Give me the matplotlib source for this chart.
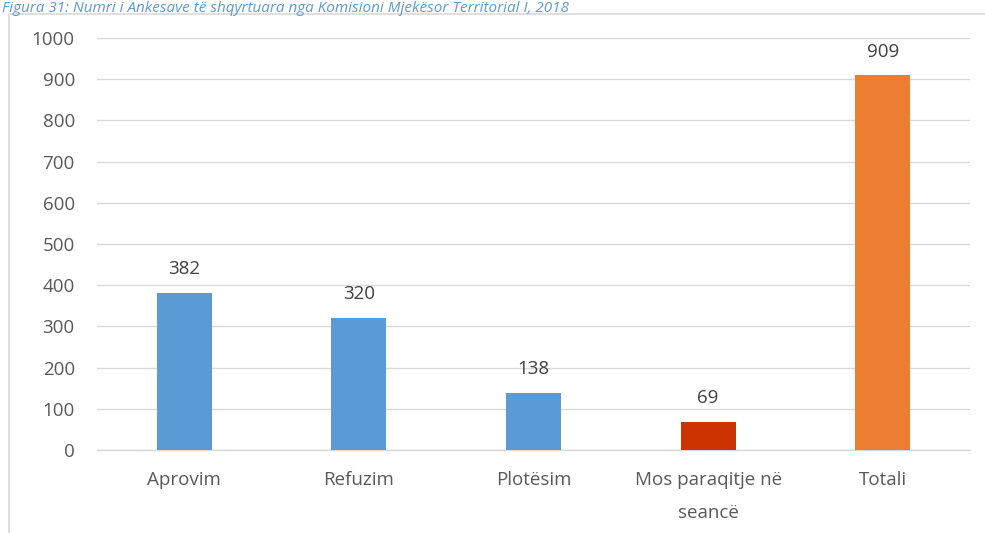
import matplotlib.pyplot as plt
from matplotlib.patches import Rectangle

# Data
categories = ["Aprovim", "Refuzim", "Plotësim", "Mos paraqitje në\nseancë", "Totali"]
values = [382, 320, 138, 69, 909]
colors = ["#5B9BD5", "#5B9BD5", "#5B9BD5", "#CC3300", "#ED7D31"]
y_ticks = list(range(0, 1001, 100))
caption = "Figura 31: Numri i Ankesave të shqyrtuara nga Komisioni Mjekësor Territorial I, 2018"

plt.rcParams['font.family'] = ['Open Sans', 'DejaVu Sans']
text_color = "#595959"

fig = plt.figure(figsize=(9.85, 5.33), dpi=100)
ax = fig.add_axes([97 / 985, 1 - 450 / 533, 873 / 985, 412 / 533])

# Chart frame and caption above it
fig.patches.append(Rectangle((9 / 985, -0.05), 1.0, 1 - 14 / 533 + 0.05,
                             transform=fig.transFigure, fill=False,
                             edgecolor="#D9D9D9", linewidth=1.2))
fig.text(0.002, 1.0 - 0.5 / 533, caption, color="#5B9BD5", style="italic",
         fontsize=11, va="top", ha="left")

x = list(range(len(categories)))
bars = ax.bar(x, values, width=0.315, color=colors, zorder=3)
for xi, v in zip(x, values):
    ax.text(xi, v + 36, str(v), ha="center", va="bottom",
            fontsize=13.5, color="#404040")

ax.set_xlim(-0.5, len(categories) - 0.5)
ax.set_ylim(0, 1000)
ax.set_yticks(y_ticks)
ax.set_xticks(x)
ax.set_xticklabels(categories, linespacing=2.05)
ax.grid(axis="y", color="#D9D9D9", linewidth=1, zorder=0)
for s in ["top", "right", "left"]:
    ax.spines[s].set_visible(False)
ax.spines["bottom"].set_color("#D9D9D9")
ax.spines["bottom"].set_linewidth(1)
ax.tick_params(axis="both", length=0, labelsize=13.5, colors=text_color)
ax.tick_params(axis="x", pad=15)
ax.tick_params(axis="y", pad=16)

plt.savefig("out.png", dpi=100)
